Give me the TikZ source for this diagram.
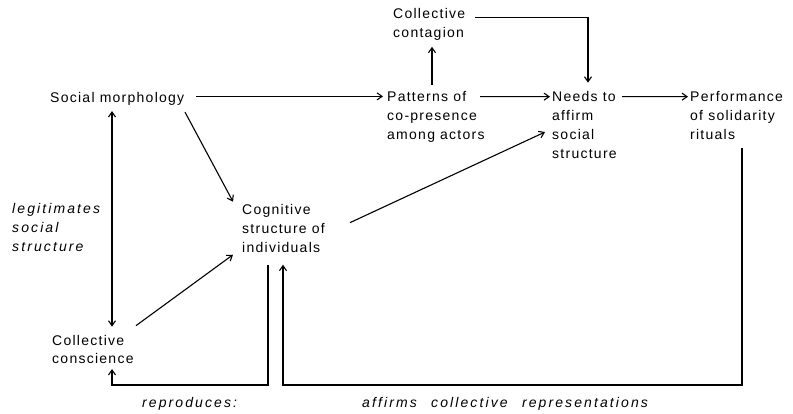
\documentclass[tikz,border=0pt]{standalone}
\usepackage{fontspec}
\setmainfont{Liberation Sans}
\usetikzlibrary{arrows.meta,calc}
\newfontfamily\dfont{Liberation Sans}[LetterSpace=9]
\newfontfamily\nfont{Liberation Sans Italic}[LetterSpace=15,WordSpace=2.4]
\tikzset{vtip/.tip={Straight Barb[length=5pt,width=7pt,line width=1.1pt]}}
\begin{document}
\begin{tikzpicture}[x=1pt,y=-1pt,
  lbl/.style={inner sep=0pt, anchor=base west, align=left,
    font=\dfont\fontsize{14}{18.7}\selectfont},
  note/.style={lbl, font=\nfont\fontsize{14}{18.7}\selectfont},
  conn/.style={line width=1.1pt, -vtip},
  both/.style={line width=1.1pt, vtip-vtip}]
\useasboundingbox (0,0) rectangle (793,414);
\fill[white] (0,0) rectangle (793,414);

% concepts (base anchor sits on the last line of each block)
\node[lbl] (sm)    at (50,103)    {Social morphology};
\node[lbl] (pat)   at (387,139.4) {Patterns of\\co-presence\\among actors};
\node[lbl] (needs) at (552,158.1) {Needs to\\affirm\\social\\structure};
\node[lbl] (perf)  at (690,139.4) {Performance\\of solidarity\\rituals};
\node[lbl] (cont)  at (393,37.7)  {Collective\\contagion};
\node[lbl] (cog)   at (242,252.4) {Cognitive\\structure of\\individuals};
\node[lbl] (cc)    at (52,363.7)  {Collective\\conscience};

% edge labels
\node[note] (legit)   at (12,251.4) {legitimates\\social\\structure};
\node[note] (repro)   at (142,407)  {reproduces:};
\node[note] (affirms) at (362,407)  {affirms collective representations};

% level of the return lines along the bottom
\coordinate (floor) at (0,385);

% main causal chain
\draw[conn] ($(sm.west)+(146,-3)$) -- ($(pat.west |- sm.east)+(-4,-3)$);
\draw[conn] ($(pat.north west)+(93,5)$) -- ($(needs.north west)+(-2,5)$);
\draw[conn] ($(needs.north west)+(70,5)$) -- ($(perf.north west)+(-2,5)$);
\draw[conn] ($(pat.north west)+(45,-7)$) -- ($(cont.south west)+(39,6)$);
\draw[conn] ($(cont.north west)+(82,9)$) -| ($(needs.north west)+(36,-9)$);

% morphology, conscience and cognition
\draw[conn] ($(sm.south west)+(135,6)$) -- ($(cog.north west)+(-9,-3)$);
\draw[conn] ($(cog.north west)+(108,18)$) -- ($(needs.west)+(-7,7)$);
\draw[both] ($(sm.south west)+(62,5)$) -- ($(cc.north west)+(60,-8)$);
\draw[conn] ($(cc.north west)+(84,-9)$) -- ($(cog.south west)+(-9,2)$);

% feedback loops
\coordinate (rs) at ($(cog.south west)+(26,12)$);
\draw[conn] (rs) -- (rs |- floor) -| ($(cc.south west)+(60,5)$);
\coordinate (as) at ($(perf.south west)+(52,8)$);
\draw[conn] (as) -- (as |- floor) -| ($(cog.south west)+(41,12)$);
\end{tikzpicture}
\end{document}
